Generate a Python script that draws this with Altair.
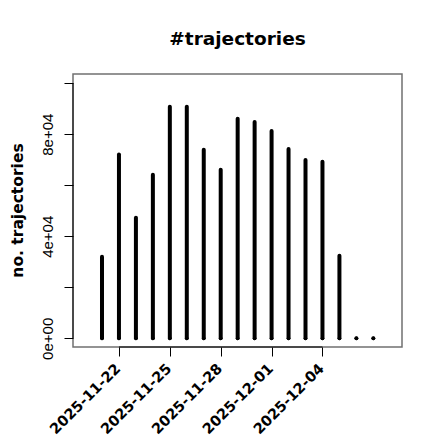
import altair as alt
import pandas as pd

# data
dates = ["2025-11-21", "2025-11-22", "2025-11-23", "2025-11-24", "2025-11-25",
         "2025-11-26", "2025-11-27", "2025-11-28", "2025-11-29", "2025-11-30",
         "2025-12-01", "2025-12-02", "2025-12-03", "2025-12-04", "2025-12-05",
         "2025-12-06", "2025-12-07"]
counts = [32000, 72000, 47300, 64100, 90800, 90800, 73900, 66100, 86100, 84800,
          81300, 74200, 69900, 69200, 32400, 0, 0]
x_tick_labels = ["2025-11-22", "2025-11-25", "2025-11-28", "2025-12-01", "2025-12-04"]
y_tick_values = [0, 20000, 40000, 60000, 80000, 100000]
y_tick_labels = ["0e+00", "", "4e+04", "", "8e+04", ""]

df = pd.DataFrame({"day": list(range(len(dates))), "date": dates, "count": counts})
x_tick_days = [dates.index(d) for d in x_tick_labels]

x_label_expr = "{" + ",".join(f"'{d}':'{lab}'" for d, lab in zip(x_tick_days, x_tick_labels)) + "}[datum.value]"
y_label_expr = "{" + ",".join(f"'{v}':'{lab}'" for v, lab in zip(y_tick_values, y_tick_labels)) + "}[datum.value]"

x_enc = alt.X(
    "day:Q",
    scale=alt.Scale(domain=[-1.71, 17.69], nice=False, zero=False),
    axis=alt.Axis(
        values=x_tick_days, labelExpr=x_label_expr, title=None, domain=False, grid=False,
        tickSize=9, tickColor="black", tickWidth=1,
        labelAngle=-45, labelAlign="right", labelBaseline="alphabetic",
        labelFont="DejaVu Sans", labelFontWeight="bold", labelFontSize=14.5,
        labelPadding=13, labelColor="black", labelOffset=2, labelOverlap=False,
    ),
)
y_enc = alt.Y(
    "count:Q",
    scale=alt.Scale(domain=[-3400, 103600], nice=False, zero=False),
    axis=alt.Axis(
        values=y_tick_values, labelExpr=y_label_expr, domain=False, grid=False,
        tickSize=9, tickColor="black", tickWidth=1,
        labelAngle=270, labelAlign="center", labelBaseline="bottom", labelPadding=9,
        labelFont="Liberation Sans", labelFontSize=15, labelColor="black", labelOverlap=False,
        title="no. trajectories", titleFont="DejaVu Sans", titleFontSize=15.5,
        titleFontWeight="bold", titleColor="black", titleAngle=270, titleX=-51, titleY=136,
        titleAlign="center", titleBaseline="alphabetic",
    ),
)

bars = alt.Chart(df).mark_rule(strokeWidth=4, strokeCap="round", color="black").encode(
    x=x_enc, y=y_enc, y2=alt.datum(0)
)
dots = alt.Chart(df).mark_circle(size=13, color="black", opacity=1).encode(
    x="day:Q", y=alt.datum(0)
)
one = alt.Data(values=[{"a": 1}])
y_line = alt.Chart(one).mark_rule(color="black", strokeWidth=1).encode(
    x=alt.value(0), y=alt.datum(y_tick_values[0]), y2=alt.datum(y_tick_values[-1])
)
x_line = alt.Chart(one).mark_rule(color="black", strokeWidth=1).encode(
    x=alt.datum(x_tick_days[0]), x2=alt.datum(x_tick_days[-1]), y=alt.value(273)
)

chart = alt.layer(bars, dots, y_line, x_line).properties(
    width=329, height=273,
    background="white",
    title=alt.TitleParams(
        "#trajectories", font="DejaVu Sans", fontSize=18.5, fontWeight="bold",
        anchor="middle", frame="group", baseline="alphabetic", offset=11, color="black",
    ),
    padding={"left": 65, "top": 66, "right": 20, "bottom": 92},
    autosize=alt.AutoSizeParams(type="none"),
).configure_view(stroke="#707070", strokeWidth=1.5)

chart.save("out.html", embed_options={"renderer": "svg", "actions": False})
